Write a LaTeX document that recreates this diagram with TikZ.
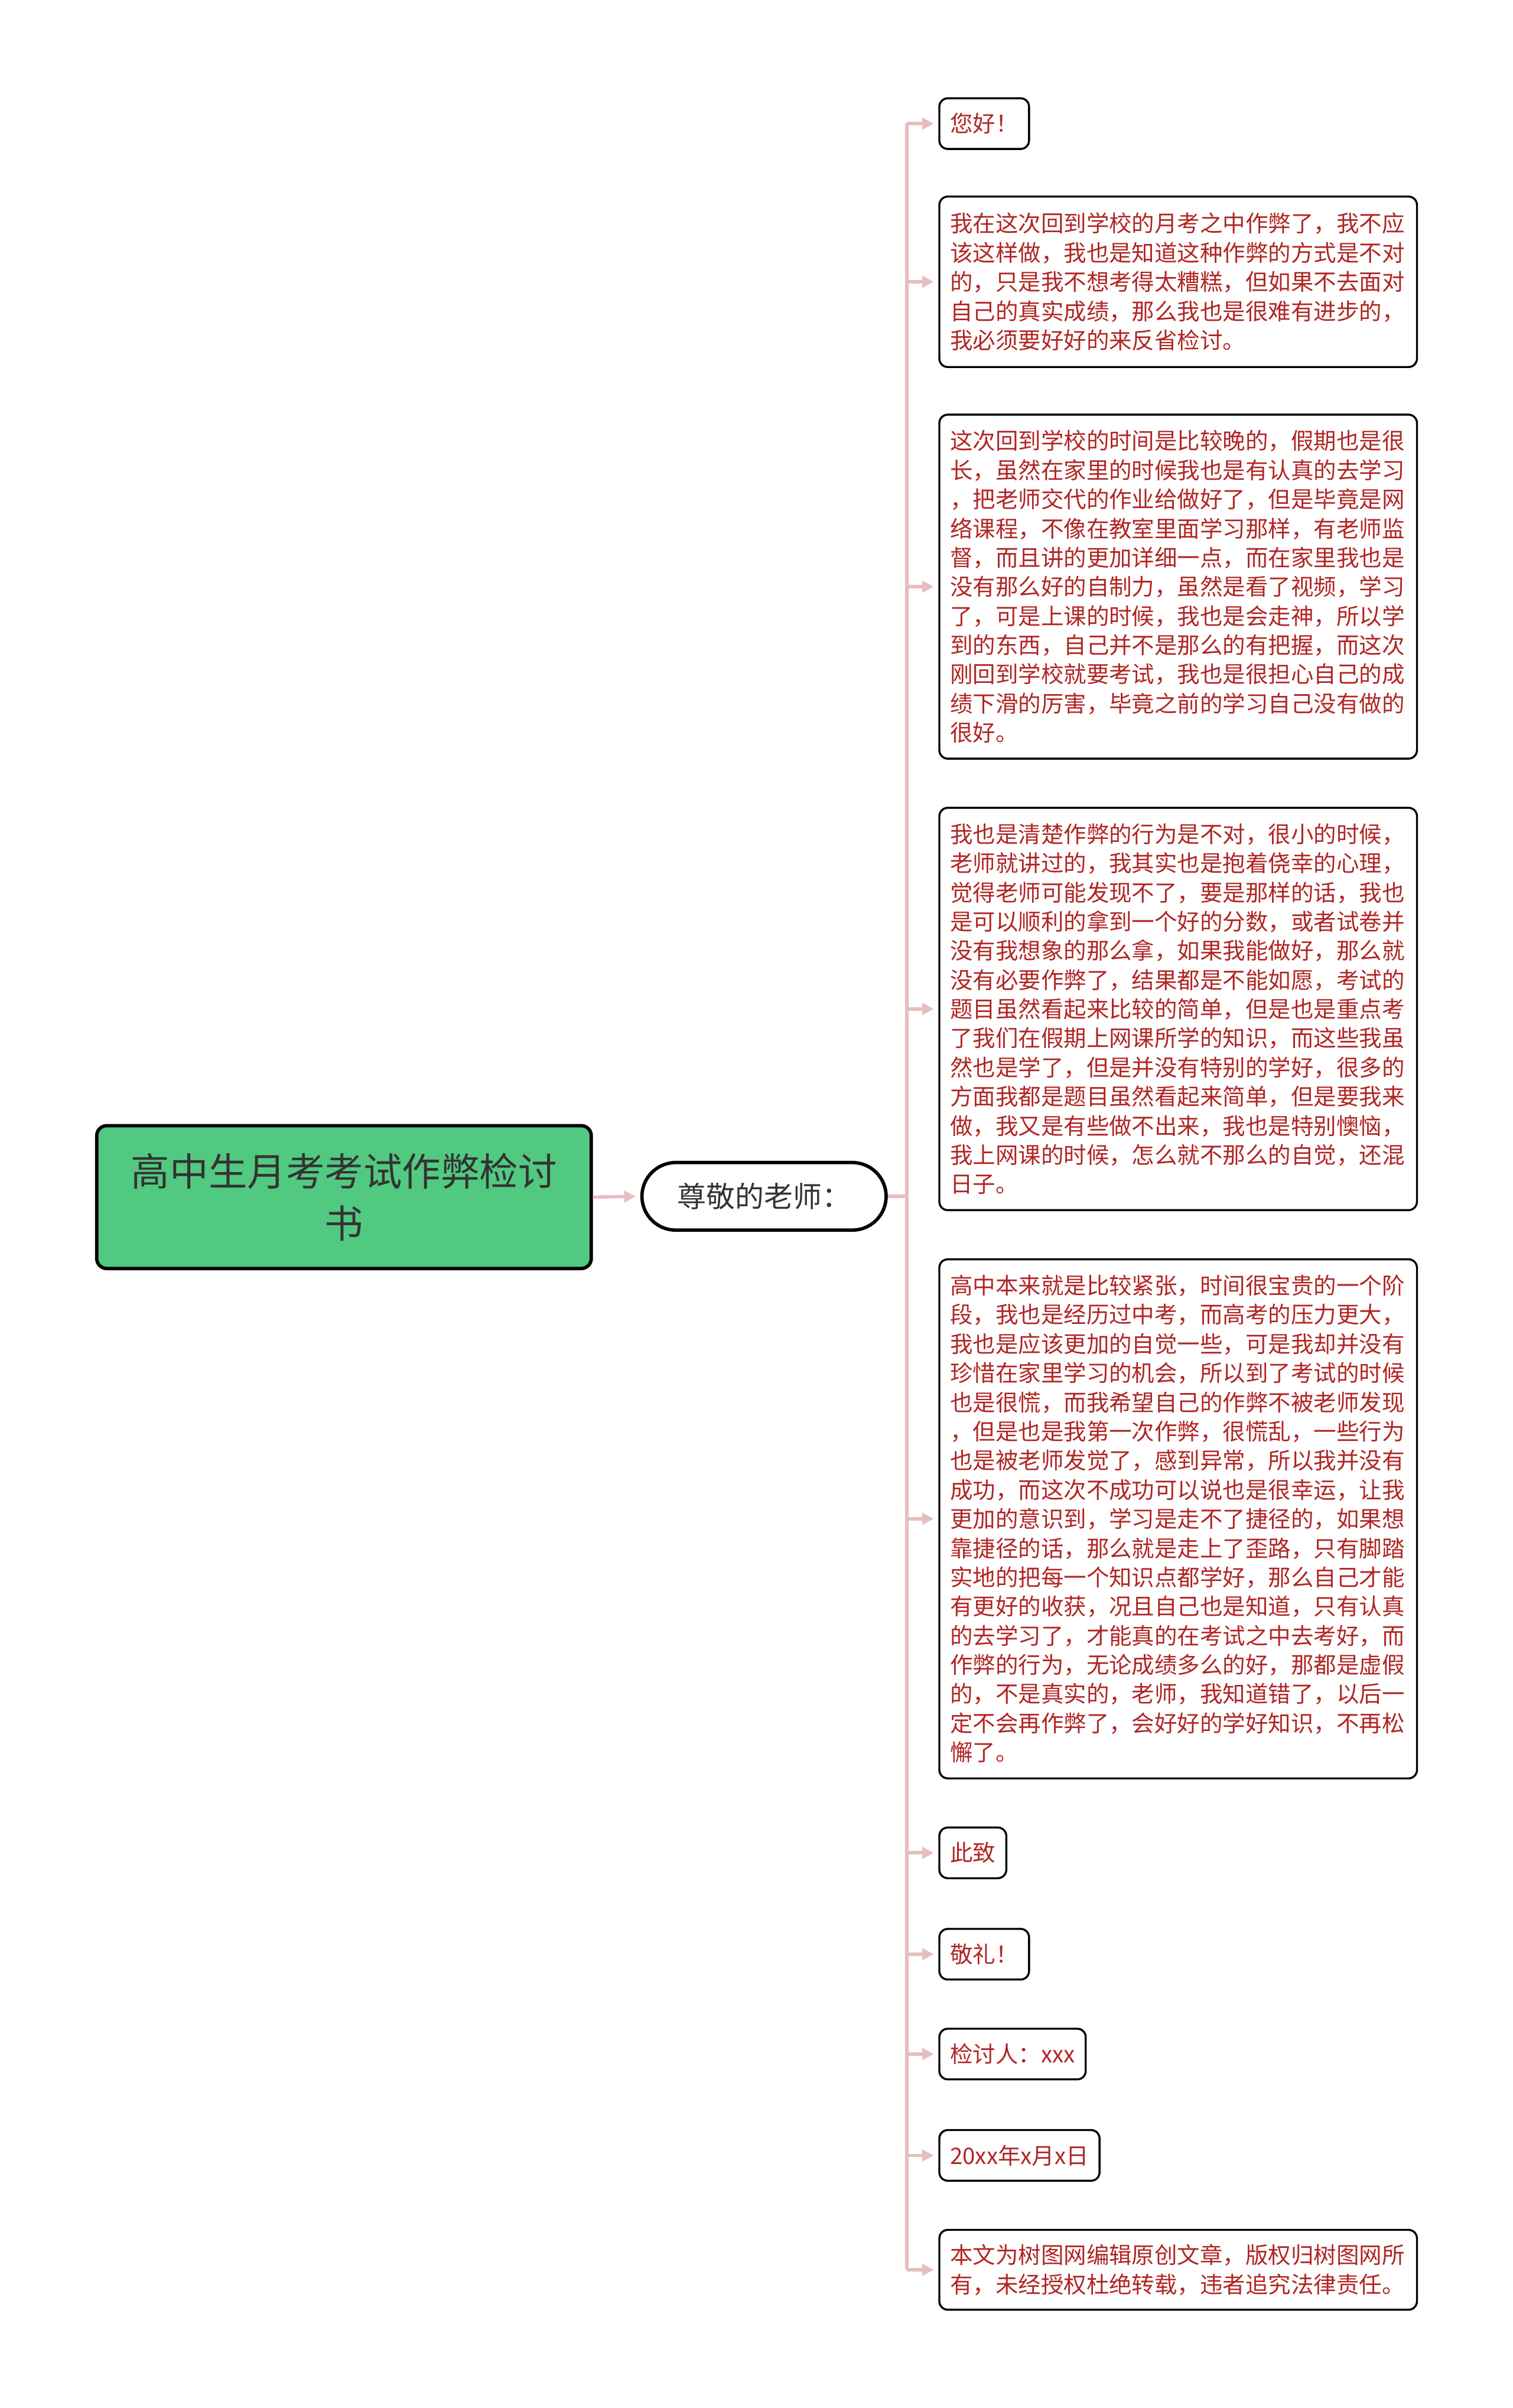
\documentclass[tikz,border=0pt]{standalone}
\usepackage{fontspec}
\setmainfont{Noto Sans CJK SC}
\usetikzlibrary{arrows.meta}
\definecolor{rootgreen}{RGB}{82,201,129}
\definecolor{linkpink}{RGB}{230,190,191}
\definecolor{leafred}{RGB}{176,38,36}
\definecolor{darktext}{RGB}{51,51,51}

\tikzset{
	root/.style={draw=black,line width=2.2pt,rounded corners=6.5pt,fill=rootgreen,
		minimum width=322pt,minimum height=93pt,align=center,text=darktext,
		font=\fontsize{25.2}{34}\selectfont},
	sub/.style={draw=black,line width=2.2pt,rounded corners=22pt,text=darktext,
		minimum width=159pt,minimum height=44pt,font=\fontsize{18.8}{22}\selectfont},
	leaf/.style={draw=black,line width=1.3pt,rounded corners=5.5pt,anchor=west,
		inner xsep=7pt,minimum height=33pt,text=leafred,
		font=\fontsize{14.8}{19}\selectfont},
	wide/.style={leaf,text width=297pt,align=left},
	link/.style={draw=linkpink,line width=2.2pt,shorten >=3pt,
		-{Triangle[length=7.5pt,width=7.5pt]}},
	trunk/.style={draw=linkpink,line width=2.2pt}
}

\begin{document}
\begin{tikzpicture}[x=1pt,y=-1pt]
	\useasboundingbox (0,0) rectangle (985,1568);
	
	\node (title) [root] at (224,779.5) {高中生月考考试作弊检讨\\书};
	\node (dear) [sub] at (497.5,779) {尊敬的老师：};
	
	\node (p0) [leaf] at (611,80.5) {您好！};
	\node (p1) [wide,minimum height=111pt] at (611,183.5) {我在这次回到学校的月考之中作弊了，我不应\\该这样做，我也是知道这种作弊的方式是不对\\的，只是我不想考得太糟糕，但如果不去面对\\自己的真实成绩，那么我也是很难有进步的，\\我必须要好好的来反省检讨。};
	\node (p2) [wide,minimum height=224pt] at (611,382) {这次回到学校的时间是比较晚的，假期也是很\\长，虽然在家里的时候我也是有认真的去学习\\，把老师交代的作业给做好了，但是毕竟是网\\络课程，不像在教室里面学习那样，有老师监\\督，而且讲的更加详细一点，而在家里我也是\\没有那么好的自制力，虽然是看了视频，学习\\了，可是上课的时候，我也是会走神，所以学\\到的东西，自己并不是那么的有把握，而这次\\刚回到学校就要考试，我也是很担心自己的成\\绩下滑的厉害，毕竟之前的学习自己没有做的\\很好。};
	\node (p3) [wide,minimum height=262pt] at (611,657) {我也是清楚作弊的行为是不对，很小的时候，\\老师就讲过的，我其实也是抱着侥幸的心理，\\觉得老师可能发现不了，要是那样的话，我也\\是可以顺利的拿到一个好的分数，或者试卷并\\没有我想象的那么拿，如果我能做好，那么就\\没有必要作弊了，结果都是不能如愿，考试的\\题目虽然看起来比较的简单，但是也是重点考\\了我们在假期上网课所学的知识，而这些我虽\\然也是学了，但是并没有特别的学好，很多的\\方面我都是题目虽然看起来简单，但是要我来\\做，我又是有些做不出来，我也是特别懊恼，\\我上网课的时候，怎么就不那么的自觉，还混\\日子。};
	\node (p4) [wide,minimum height=338pt] at (611,989) {高中本来就是比较紧张，时间很宝贵的一个阶\\段，我也是经历过中考，而高考的压力更大，\\我也是应该更加的自觉一些，可是我却并没有\\珍惜在家里学习的机会，所以到了考试的时候\\也是很慌，而我希望自己的作弊不被老师发现\\，但是也是我第一次作弊，很慌乱，一些行为\\也是被老师发觉了，感到异常，所以我并没有\\成功，而这次不成功可以说也是很幸运，让我\\更加的意识到，学习是走不了捷径的，如果想\\靠捷径的话，那么就是走上了歪路，只有脚踏\\实地的把每一个知识点都学好，那么自己才能\\有更好的收获，况且自己也是知道，只有认真\\的去学习了，才能真的在考试之中去考好，而\\作弊的行为，无论成绩多么的好，那都是虚假\\的，不是真实的，老师，我知道错了，以后一\\定不会再作弊了，会好好的学好知识，不再松\\懈了。};
	\node (p5) [leaf] at (611,1206.5) {此致};
	\node (p6) [leaf] at (611,1272.5) {敬礼！};
	\node (p7) [leaf] at (611,1337.5) {检讨人：xxx};
	\node (p8) [leaf] at (611,1403.5) {20xx年x月x日};
	\node (p9) [wide,minimum height=52pt] at (611,1478) {本文为树图网编辑原创文章，版权归树图网所\\有，未经授权杜绝转载，违者追究法律责任。};
	
	\draw [link] (title.east) -- (dear.west);
	\draw [trunk] (dear.east) -- ++(12.5,0) coordinate (fork);
	\draw [trunk] (fork |- p0.west) -- (fork |- p9.west);
	\foreach \n in {p0,p1,p2,p3,p4,p5,p6,p7,p8,p9}
	\draw [link] (fork |- \n.west) -- (\n.west);
	
\end{tikzpicture}
\end{document}
